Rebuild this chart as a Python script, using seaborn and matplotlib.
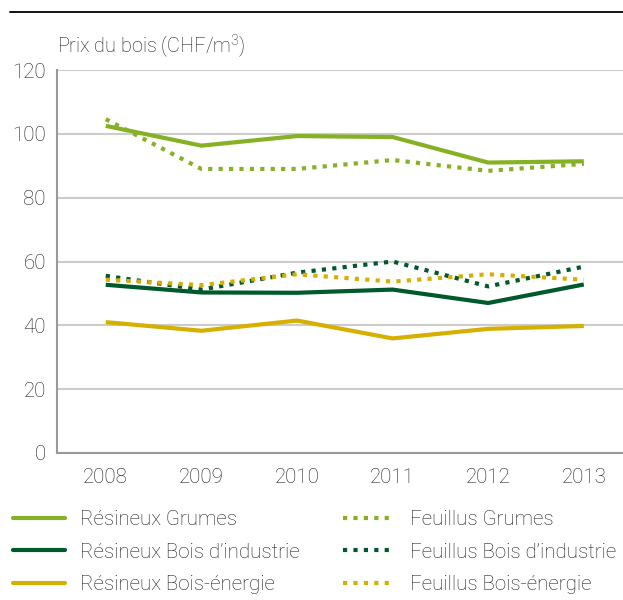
import matplotlib
matplotlib.use("Agg")
import matplotlib.pyplot as plt
from matplotlib.lines import Line2D
import pandas as pd
import seaborn as sns

# Données
years = [2008, 2009, 2010, 2011, 2012, 2013]
res_grumes = [102.5, 96.3, 99.3, 99.0, 91.0, 91.4]
feu_grumes = [104.6, 89.0, 89.0, 91.8, 88.4, 90.6]
res_industrie = [52.7, 50.3, 50.2, 51.2, 47.0, 52.8]
feu_industrie = [55.5, 51.2, 56.5, 60.0, 52.2, 58.4]
res_energie = [41.0, 38.3, 41.5, 35.9, 38.9, 39.8]
feu_energie = [54.3, 52.6, 56.0, 53.7, 56.0, 54.3]

labels = [
    "Résineux Grumes", "Résineux Bois d’industrie", "Résineux Bois-énergie",
    "Feuillus Grumes", "Feuillus Bois d’industrie", "Feuillus Bois-énergie",
]
series = [res_grumes, res_industrie, res_energie, feu_grumes, feu_industrie, feu_energie]

LIGHT = "#86b125"
DARK = "#00592a"
YELLOW = "#d5b000"
colors = [LIGHT, DARK, YELLOW, LIGHT, DARK, YELLOW]
DOTS = (0, (1, 1.5))
styles = ["-", "-", "-", DOTS, DOTS, DOTS]

sns.set_style("white")
plt.rcParams.update({
    "font.family": "Roboto",
    "font.weight": "light",
    "mathtext.fontset": "custom",
    "mathtext.rm": "Roboto:light",
    "text.color": "#1e1e1e",
    "xtick.color": "#999999",
    "ytick.color": "#999999",
    "xtick.labelcolor": "#1e1e1e",
    "ytick.labelcolor": "#1e1e1e",
})

fig = plt.figure(figsize=(6.23, 6.0), dpi=100)
ax = fig.add_axes([57 / 623, 1 - 453 / 600, 1 - 57 / 623, (453 - 70) / 600])

# Ordre de tracé: pointillés d'abord, lignes pleines par-dessus
order = [4, 5, 3, 2, 1, 0]
for i in order:
    df = pd.DataFrame({"annee": years, "prix": series[i]})
    sns.lineplot(data=df, x="annee", y="prix", ax=ax, color=colors[i],
                 linestyle=styles[i], linewidth=3, dash_capstyle="butt",
                 solid_capstyle="butt", legend=False)

ax.set_xlim(2007.49, 2013.41)
ax.set_ylim(0, 120)
ax.set_xticks(years)
ax.set_yticks(range(0, 121, 20))
ax.set_xlabel("")
ax.set_ylabel("")
ax.grid(axis="y", color="#cccccc", linewidth=1.5)
ax.set_axisbelow(True)
for side in ["top", "right"]:
    ax.spines[side].set_visible(False)
for side in ["left", "bottom"]:
    ax.spines[side].set_color("#999999")
    ax.spines[side].set_linewidth(1.5)
ax.tick_params(axis="y", length=4, width=1, pad=4, labelsize=14.8)
ax.tick_params(axis="x", length=3, width=1, pad=8, labelsize=14.8)

fig.text(57 / 623, 1 - 53 / 600, r"Prix du bois (CHF/m$^{\mathregular{3}}$)", fontsize=14.3,
         ha="left", va="baseline")

# filet noir en haut
fig.add_artist(Line2D([10 / 623, 1], [1 - 12 / 600] * 2, color="black", linewidth=1.3))

handles = [Line2D([], [], color=colors[i], linestyle=styles[i], linewidth=3,
                  dash_capstyle="butt") for i in range(6)]
fig.legend(handles, labels, loc="upper left", bbox_to_anchor=(13 / 623, 1 - 510 / 600),
           ncol=2, frameon=False, fontsize=14.8, handlelength=2.55, handletextpad=0.72,
           columnspacing=2.1, labelspacing=0.66, borderpad=0, borderaxespad=0)

fig.savefig("out.png", dpi=100, facecolor="white")
